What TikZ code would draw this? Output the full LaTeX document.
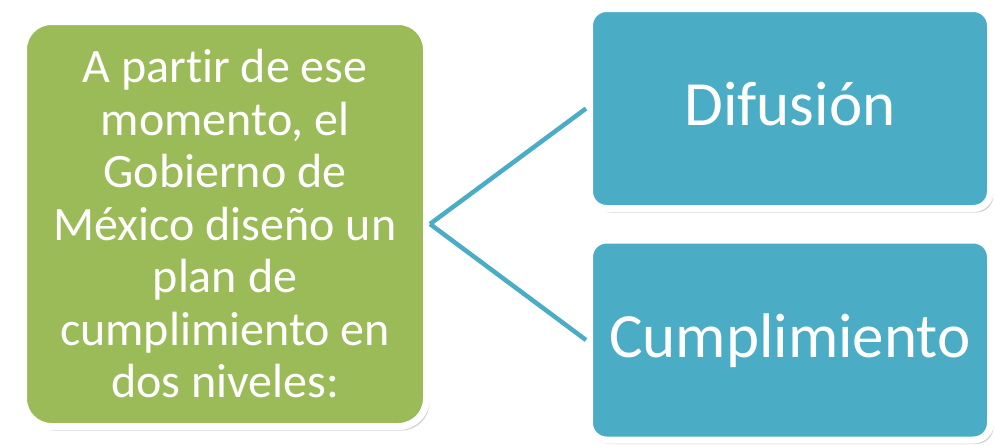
\documentclass[tikz,border=0pt]{standalone}
\usepackage{fontspec}
\setmainfont{Carlito}[Ligatures=NoCommon]
\usetikzlibrary{shadows}
\definecolor{boxgreen}{HTML}{9BBB59}
\definecolor{boxblue}{HTML}{4BACC6}
\begin{document}
\begin{tikzpicture}[x=1pt,y=-1pt,
  card/.style={draw=white, line width=7pt, text=white, inner sep=0pt,
    drop shadow={shadow xshift=3pt, shadow yshift=-4pt, opacity=0.25, fill=black!70}},
  greencard/.style={card, fill=boxgreen, rounded corners=28pt, minimum width=403pt, minimum height=405pt, align=center, font=\fontsize{48}{52.5}\selectfont},
  bluecard/.style={card, fill=boxblue, rounded corners=17pt, minimum width=401pt, minimum height=200pt, font=\fontsize{63}{75}\selectfont, text height=41pt, text depth=7pt},
  link/.style={draw=boxblue, line width=4.5pt}]
\useasboundingbox (0,0) rectangle (994,445);
\node[greencard] (g) at (225,224) {A partir de ese\\momento, el\\Gobierno de\\México diseño un\\plan de\\cumplimiento en\\dos niveles:};
\node[bluecard] (d) at (790,108.5) {Difusión};
\node[bluecard] (c) at (790,340) {Cumplimiento};
\draw[link] (g.east) -- (d.west);
\draw[link] (g.east) -- (c.west);
\end{tikzpicture}
\end{document}
